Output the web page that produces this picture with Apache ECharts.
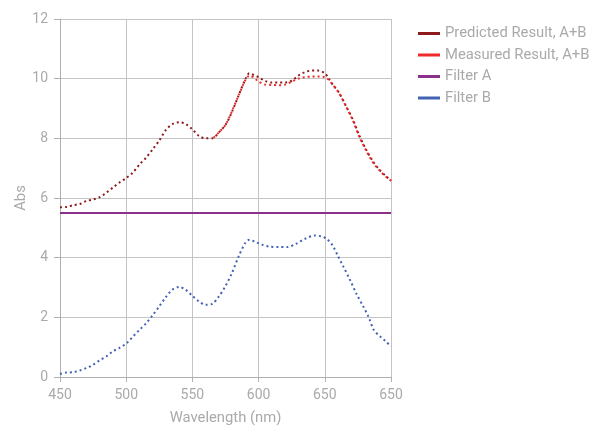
<!DOCTYPE html>
<html><head><meta charset="utf-8">
<script src="https://cdn.jsdelivr.net/npm/echarts@6/dist/echarts.min.js"></script>
<style>html,body{margin:0;padding:0;background:#fff}#c{width:597px;height:427px}</style>
</head><body><div id="c"></div>
<script>
const xTickLabels = ['450','500','550','600','650','650'];
const yTickLabels = ['0','2','4','6','8','10','12'];

const predictedWl = [450,455,460,465,470,475,480,485,490,495,500,505,510,515,520,525,530,535,540,545,550,555,560,565,570,575,580,585,590,593,596,600,605,610,615,620,625,630,635,640,645,650,653,656,661,666,671,676,681,686,691,696,700];
const predictedAbs = [5.69,5.70,5.76,5.80,5.90,5.95,6.03,6.18,6.35,6.52,6.67,6.85,7.12,7.35,7.63,7.93,8.28,8.48,8.54,8.48,8.30,8.08,8.00,8.00,8.20,8.45,8.90,9.45,9.98,10.18,10.13,10.05,9.92,9.87,9.87,9.87,9.93,10.10,10.22,10.27,10.27,10.18,10.00,9.80,9.51,9.08,8.65,8.10,7.64,7.25,6.96,6.74,6.58];

const measuredWl = [566,570,575,580,585,590,593,596,600,605,610,615,620,625,630,635,640,645,650,653,656,661,666,671,676,681,686,691,696,700];
const measuredAbs = [8.02,8.20,8.45,8.92,9.45,9.95,10.10,10.05,9.90,9.80,9.79,9.78,9.80,9.90,10.00,10.05,10.07,10.07,10.05,9.96,9.80,9.50,9.07,8.62,8.06,7.61,7.22,6.94,6.72,6.58];

const filterAWl = [450,700];
const filterAAbs = [5.5,5.5];

const filterBWl = [450,455,460,465,470,475,480,485,490,495,500,505,510,515,520,525,530,535,540,545,550,555,560,565,570,575,580,585,590,593,598,603,608,615,622,628,635,642,648,652,656,660,664,669,674,679,683,687,692,696,700];
const filterBAbs = [0.10,0.15,0.16,0.22,0.30,0.41,0.56,0.69,0.86,0.98,1.12,1.35,1.58,1.80,2.07,2.37,2.68,2.93,3.02,2.92,2.72,2.53,2.42,2.45,2.70,3.05,3.50,4.05,4.50,4.60,4.52,4.43,4.37,4.36,4.36,4.46,4.63,4.74,4.71,4.61,4.40,4.05,3.70,3.26,2.78,2.37,2.02,1.58,1.35,1.20,1.02];

const seriesNames = ['Predicted Result, A+B','Measured Result, A+B','Filter A','Filter B'];
const colors = ['#8e1b1b','#ee2a2a','#8b318b','#4262b4'];

function pairs(xs, ys){ return xs.map((x,i)=>[x, ys[i]]); }

const gray = '#aaaaaa';
const chart = echarts.init(document.getElementById('c'), null, {renderer:'canvas'});
const dotted = (c)=>({color:c, width:2, type:[2,3]});
chart.setOption({
  animation:false,
  color: colors,
  textStyle:{fontFamily:'Roboto'},
  grid:{left:60, right:206, top:19, bottom:50, containLabel:false, outerBoundsMode:'none'},
  legend:{
    orient:'vertical', left:413, top:21, icon:'rect', itemWidth:22, itemHeight:3, itemGap:6.5,
    textStyle:{color:gray, fontSize:14.8, fontFamily:'Roboto'},
    data: seriesNames
  },
  xAxis:{
    type:'value', min:450, max:700, interval:50,
    name:'Wavelength (nm)', nameLocation:'middle', nameGap:34, nameMoveOverlap:false,
    nameTextStyle:{color:gray, fontSize:14.8},
    axisLine:{show:true, lineStyle:{color:'#b0b0b0'}},
    axisTick:{show:true, length:5, lineStyle:{color:'#b0b0b0'}},
    axisLabel:{color:gray, fontSize:14, margin:11, formatter:(v)=> xTickLabels[Math.round((v-450)/50)]},
    splitLine:{show:true, lineStyle:{color:'#c4c4c4'}}
  },
  yAxis:{
    type:'value', min:0, max:12, interval:2,
    name:'Abs', nameLocation:'middle', nameGap:31, nameMoveOverlap:false,
    nameTextStyle:{color:gray, fontSize:14.8},
    axisLine:{show:true, lineStyle:{color:'#b0b0b0'}},
    axisTick:{show:true, length:6, lineStyle:{color:'#b0b0b0'}},
    axisLabel:{color:gray, fontSize:14, margin:12, formatter:(v)=> yTickLabels[Math.round(v/2)]},
    splitLine:{show:true, lineStyle:{color:'#c4c4c4'}}
  },
  series:[
    {name:seriesNames[0], type:'line', smooth:0.3, symbol:'none', data:pairs(predictedWl,predictedAbs), lineStyle:dotted(colors[0])},
    {name:seriesNames[1], type:'line', smooth:0.3, symbol:'none', data:pairs(measuredWl,measuredAbs), lineStyle:dotted(colors[1])},
    {name:seriesNames[2], type:'line', symbol:'none', data:pairs(filterAWl,filterAAbs), lineStyle:{color:colors[2], width:2}},
    {name:seriesNames[3], type:'line', smooth:0.3, symbol:'none', data:pairs(filterBWl,filterBAbs), lineStyle:dotted(colors[3])}
  ]
});
</script></body></html>
